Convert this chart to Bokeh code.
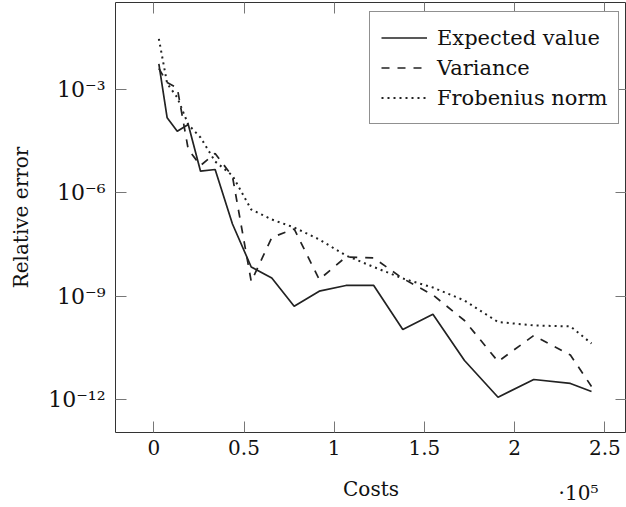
from bokeh.plotting import figure
from bokeh.models import (Range1d, FixedTicker, CustomJSTickFormatter, LinearAxis, LogAxis,
                          Legend, LegendItem, ColumnDataSource)
from bokeh.embed import file_html
from bokeh.resources import INLINE

# ---------------- data ----------------
costs = [2800, 7400, 13000, 19100, 25900, 34000, 43600, 54000, 65400, 77800,
         91700, 106500, 121900, 138000, 154700, 172200, 190800, 210600, 230900, 242600]

expected_value = [5.57e-3, 1.51e-4, 6.15e-5, 9.64e-5, 4.25e-6, 4.75e-6, 1.24e-7, 7.01e-9,
                  3.37e-9, 5.11e-10, 1.39e-9, 2.04e-9, 2.04e-9, 1.07e-10, 2.99e-10,
                  1.35e-11, 1.16e-12, 3.80e-12, 2.91e-12, 1.70e-12]

variance = [4.07e-3, 1.60e-3, 1.11e-3, 1.81e-5, 6.21e-6, 1.39e-5, 2.98e-6, 2.66e-9,
            5.05e-8, 8.91e-8, 3.04e-9, 1.37e-8, 1.28e-8, 3.25e-9, 1.08e-9, 1.96e-10,
            1.26e-11, 7.19e-11, 1.95e-11, 2.38e-12]

frobenius_norm = [2.96e-2, 1.49e-3, 5.86e-4, 9.64e-5, 4.04e-5, 8.11e-6, 3.18e-6, 3.28e-7,
                  1.68e-7, 9.84e-8, 4.42e-8, 1.51e-8, 7.01e-9, 3.25e-9, 1.78e-9, 7.46e-10,
                  1.77e-10, 1.41e-10, 1.32e-10, 4.22e-11]

series_names = ["Expected value", "Variance", "Frobenius norm"]
x_ticks = [0, 50000, 100000, 150000, 200000, 250000]
y_ticks = [1e-12, 1e-9, 1e-6, 1e-3]
x_label = "Costs"
y_label = "Relative error"
x_scale_note = "·10⁵"

# ---------------- styling ----------------
FONT = "DejaVu Serif"
INK = "#222222"
NOTE_AT = 235400  # horizontal anchor of the "·10^5" multiplier label

p = figure(width=626, height=507, y_axis_type="log",
           x_range=Range1d(-21230, 262000),
           y_range=Range1d(10 ** -12.96, 10 ** -0.474),
           output_backend="svg", toolbar_location=None,
           min_border_left=115, min_border_right=0, min_border_top=2, min_border_bottom=75)

p.background_fill_color = "white"
p.border_fill_color = "white"
p.outline_line_color = "#333333"
p.outline_line_width = 1
p.xgrid.visible = False
p.ygrid.visible = False

src = ColumnDataSource(dict(costs=costs, ev=expected_value, var=variance, fro=frobenius_norm))
r1 = p.line("costs", "ev", source=src, line_color=INK, line_width=1.7)
r2 = p.line("costs", "var", source=src, line_color=INK, line_width=1.7, line_dash="8 8")
r3 = p.line("costs", "fro", source=src, line_color=INK, line_width=2, line_dash="2 4")

x_fmt = CustomJSTickFormatter(code="return String(Math.round(tick / 1e4) / 10);")
y_fmt = CustomJSTickFormatter(code="""
const sup = {"-": "\u207b", "0": "\u2070", "1": "\u00b9", "2": "\u00b2", "3": "\u00b3",
             "4": "\u2074", "5": "\u2075", "6": "\u2076", "7": "\u2077", "8": "\u2078", "9": "\u2079"};
const e = Math.round(Math.log10(tick));
return "10" + String(e).split("").map(c => sup[c]).join("");
""")

xa = p.xaxis[0]
ya = p.yaxis[0]
xa.ticker = FixedTicker(ticks=x_ticks, minor_ticks=[])
ya.ticker = FixedTicker(ticks=y_ticks, minor_ticks=[])
xa.formatter = x_fmt
ya.formatter = y_fmt
for ax, fs in ((xa, "20px"), (ya, "22px")):
    ax.axis_line_color = None
    ax.major_tick_in = 11
    ax.major_tick_out = 0
    ax.minor_tick_in = 0
    ax.minor_tick_out = 0
    ax.major_tick_line_color = "#777777"
    ax.major_tick_line_width = 1
    ax.major_label_text_font = FONT
    ax.major_label_text_font_size = fs
    ax.major_label_text_color = "#111111"
    ax.axis_label_text_font = FONT
    ax.axis_label_text_font_size = "20px"
    ax.axis_label_text_font_style = "normal"
    ax.axis_label_text_color = "#111111"
xa.axis_label = x_label
ya.axis_label = y_label
xa.major_label_standoff = 7
xa.axis_label_standoff = 19
ya.major_label_standoff = 10
ya.axis_label_standoff = 12

# mirrored inward ticks on top and right
blank = CustomJSTickFormatter(code="return '';")
top = LinearAxis(ticker=FixedTicker(ticks=x_ticks, minor_ticks=[]), formatter=blank)
right = LogAxis(ticker=FixedTicker(ticks=y_ticks, minor_ticks=[]), formatter=blank)
for ax in (top, right):
    ax.axis_line_color = None
    ax.major_tick_in = 11
    ax.major_tick_out = 0
    ax.minor_tick_in = 0
    ax.minor_tick_out = 0
    ax.major_tick_line_color = "#777777"
    ax.major_label_text_font_size = "0px"
    ax.major_label_standoff = 0
p.add_layout(top, "above")
p.add_layout(right, "right")

# the "·10^5" multiplier, drawn as a tick label of a bare second bottom axis
note_axis = LinearAxis(ticker=FixedTicker(ticks=[NOTE_AT], minor_ticks=[]),
                       formatter=CustomJSTickFormatter(code="return '%s';" % x_scale_note))
note_axis.axis_line_color = None
note_axis.major_tick_in = 0
note_axis.major_tick_out = 0
note_axis.minor_tick_in = 0
note_axis.minor_tick_out = 0
note_axis.major_tick_line_color = None
note_axis.major_label_standoff = -23
note_axis.major_label_text_font = FONT
note_axis.major_label_text_font_size = "20px"
note_axis.major_label_text_color = "#111111"
p.add_layout(note_axis, "below")

legend = Legend(items=[LegendItem(label=series_names[0], renderers=[r1]),
                       LegendItem(label=series_names[1], renderers=[r2]),
                       LegendItem(label=series_names[2], renderers=[r3])],
                location=(254, 308))
legend.border_line_color = "#222222"
legend.border_line_width = 1
legend.background_fill_color = "white"
legend.background_fill_alpha = 1
legend.label_text_font = FONT
legend.label_text_font_size = "21px"
legend.label_text_color = "#111111"
legend.glyph_width = 46
legend.glyph_height = 29
legend.label_height = 29
legend.spacing = 1
legend.padding = 11
legend.label_standoff = 10
legend.margin = 0
p.add_layout(legend)

open("out.html", "w").write(file_html(p, INLINE))
